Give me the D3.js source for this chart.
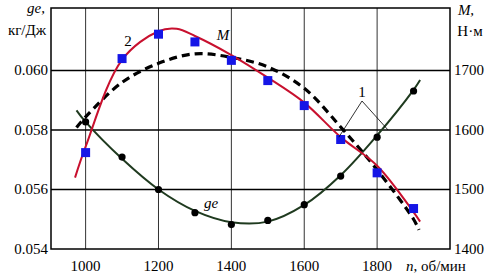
<!DOCTYPE html>
<html>
<head>
<meta charset="utf-8">
<script src="https://cdn.jsdelivr.net/npm/d3@7"></script>
<style>
  body { margin: 0; background: #fff; }
</style>
</head>
<body>
<div id="chart"></div>
<script>
var W = 488, H = 280
var margin = { top: 8, right: 38, bottom: 31, left: 51 }

// x ticks, rpm
var xTicks = [1000, 1200, 1400, 1600, 1800]
var geTicks = [0.054, 0.056, 0.058, 0.060]
var mTicks = [1400, 1500, 1600, 1700]

// ge points (kg/J), black circles
var gePointN = [1000, 1100, 1200, 1300, 1400, 1500, 1600, 1700, 1800, 1900]
var gePointV = [0.05827, 0.05709, 0.0560, 0.05522, 0.05482, 0.05496, 0.05549, 0.05645, 0.05776, 0.05931]
// ge fitted curve
var geCurveN = [975, 1000, 1100, 1200, 1300, 1400, 1500, 1600, 1700, 1800, 1900, 1918]
var geCurveV = [0.05866, 0.05827, 0.05703, 0.05600, 0.05528, 0.05490, 0.05492, 0.05548, 0.05648, 0.05782, 0.05935, 0.05968]

// M dashed curve (1), N*m
var mDashN = [975, 1000, 1100, 1200, 1300, 1400, 1500, 1600, 1700, 1800, 1900, 1915]
var mDashV = [1604, 1622, 1680, 1712, 1728, 1722, 1706, 1670, 1605, 1533, 1450, 1432]

// M red curve (2) and its blue squares
var mRedN = [971, 1000, 1100, 1200, 1250, 1300, 1400, 1500, 1600, 1700, 1800, 1900, 1918]
var mRedV = [1520, 1572, 1718, 1766, 1770, 1758, 1726, 1688, 1646, 1588, 1540, 1462, 1446]
var mSqN = [1000, 1100, 1200, 1300, 1400, 1500, 1600, 1700, 1800, 1900]
var mSqV = [1562, 1720, 1761, 1748, 1717, 1683, 1641, 1584, 1528, 1468]

var svg = d3.select("#chart").append("svg")
    .attr("width", W).attr("height", H)

var x = d3.scaleLinear().domain([905, 2000]).range([margin.left, W - margin.right])
var yL = d3.scaleLinear().domain([0.054, 0.0621]).range([H - margin.bottom, margin.top])
var yR = d3.scaleLinear().domain([1400, 1805]).range([H - margin.bottom, margin.top])

var x0 = margin.left, x1 = W - margin.right, y0 = margin.top, y1 = H - margin.bottom

function label(px, py, str, anchor, italic) {
    return svg.append("text")
        .attr("x", px).attr("y", py)
        .attr("text-anchor", anchor || "middle")
        .attr("font-family", "Liberation Serif")
        .attr("font-size", 15)
        .attr("font-style", italic ? "italic" : "normal")
        .text(str)
}

// grid
svg.append("g").selectAll("line").data(xTicks).enter().append("line")
    .attr("x1", d => x(d)).attr("x2", d => x(d))
    .attr("y1", y0).attr("y2", y1)
    .attr("stroke", "#333").attr("stroke-width", 1)
svg.append("g").selectAll("line").data(geTicks.slice(1)).enter().append("line")
    .attr("x1", x0).attr("x2", x1)
    .attr("y1", d => yL(d)).attr("y2", d => yL(d))
    .attr("stroke", "#000").attr("stroke-width", 1.3)

svg.append("rect")
    .attr("x", x0).attr("y", y0).attr("width", x1 - x0).attr("height", y1 - y0)
    .attr("fill", "none").attr("stroke", "#000").attr("stroke-width", 1.5)

// tick labels
xTicks.forEach(d => label(x(d), 271, d, "middle"))
geTicks.forEach(d => label(48, yL(d) + 5, d3.format(".3f")(d), "end"))
mTicks.forEach(d => label(454, yR(d) + 5, d, "start"))

// axis titles
label(36, 13, "ge,", "middle", true)
label(27, 35, "кг/Дж", "middle")
label(466, 15, "M,", "middle", true)
label(470, 36, "Н·м", "middle")
var nl = label(406, 271, "", "start")
nl.append("tspan").attr("font-style", "italic").text("n")
nl.append("tspan").text(", об/мин")

var line = function (sy) {
    return d3.line().x(d => x(d[0])).y(d => sy(d[1])).curve(d3.curveCatmullRom.alpha(0.5))
}
var zip = (a, b) => a.map((v, i) => [v, b[i]])

// ge curve
svg.append("path").datum(zip(geCurveN, geCurveV))
    .attr("d", line(yL)).attr("fill", "none")
    .attr("stroke", "#1f3a1f").attr("stroke-width", 2)
svg.append("g").selectAll("circle").data(zip(gePointN, gePointV)).enter().append("circle")
    .attr("cx", d => x(d[0])).attr("cy", d => yL(d[1])).attr("r", 3.6)
    .attr("fill", "#000")

// M dashed
svg.append("path").datum(zip(mDashN, mDashV))
    .attr("d", line(yR)).attr("fill", "none")
    .attr("stroke", "#000").attr("stroke-width", 3.2)
    .attr("stroke-dasharray", "8,5")

// M red
svg.append("path").datum(zip(mRedN, mRedV))
    .attr("d", line(yR)).attr("fill", "none")
    .attr("stroke", "#c8102e").attr("stroke-width", 2)
svg.append("g").selectAll("rect").data(zip(mSqN, mSqV)).enter().append("rect")
    .attr("x", d => x(d[0]) - 4.5).attr("y", d => yR(d[1]) - 4.5)
    .attr("width", 9).attr("height", 9)
    .attr("fill", "#1515e6")

// curve labels
label(128, 46, "2")
label(223, 40, "M", "middle", true)
label(211, 208, "ge", "middle", true)
label(362, 97, "1")
svg.append("polyline")
    .attr("points", [[x(1695), yR(1588)], [362, 101], [x(1830), yR(1600)]].map(p => p.join(",")).join(" "))
    .attr("fill", "none").attr("stroke", "#000").attr("stroke-width", 0.8)
</script>
</body>
</html>
